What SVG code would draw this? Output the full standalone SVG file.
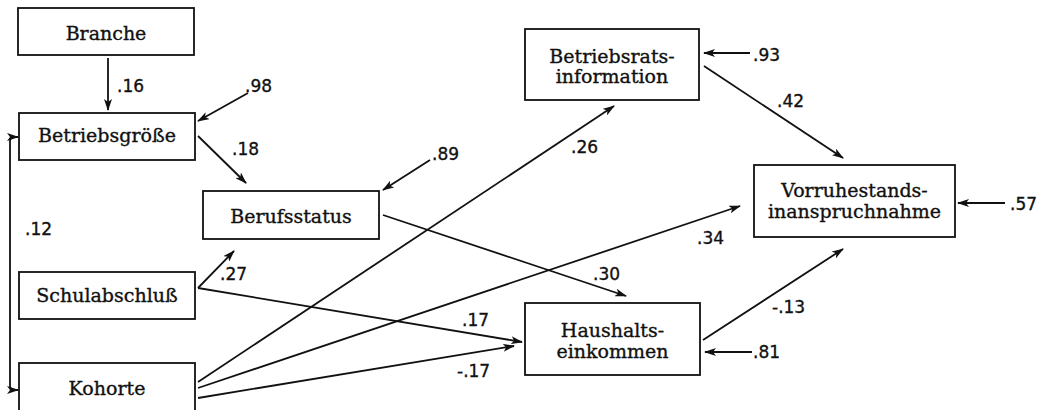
<svg xmlns="http://www.w3.org/2000/svg" width="1049" height="410" viewBox="0 0 1049 410">
<style>
.box{fill:#fff;stroke:#111;stroke-width:1.8}
.lbl{font-family:"DejaVu Serif","Liberation Serif",serif;font-size:19px;fill:#111;stroke:#111;stroke-width:0.35;text-anchor:middle}
.num{font-family:"DejaVu Sans","Liberation Sans",sans-serif;font-size:17px;fill:#111;stroke:#111;stroke-width:0.35}
.c{fill:none;stroke:#111;stroke-width:1.8;marker-end:url(#ah)}
</style>
<defs>
<marker id="ah" markerUnits="userSpaceOnUse" markerWidth="12" markerHeight="8" refX="11" refY="4" orient="auto-start-reverse" viewBox="0 0 12 8">
<path d="M0,0 L12,4 L0,8 L3,4 z" fill="#111"/>
</marker>
</defs>
<rect width="1049" height="410" fill="#fff"/>
<g id="connectors">
<line class="c" x1="108" y1="58" x2="108" y2="110"/>
<line class="c" x1="248" y1="93" x2="198" y2="121"/>
<line class="c" x1="198" y1="136" x2="246" y2="183"/>
<path class="c" style="marker-start:url(#ah)" d="M18,137 H14 Q10,137 10,141 V386 Q10,390 14,390 H18"/>
<line class="c" x1="430" y1="160" x2="383" y2="190"/>
<line class="c" x1="198" y1="288" x2="234" y2="251"/>
<line class="c" x1="198" y1="288" x2="522" y2="342"/>
<line class="c" x1="198" y1="382" x2="614" y2="106"/>
<line class="c" x1="198" y1="388" x2="740" y2="206"/>
<line class="c" x1="198" y1="398" x2="514" y2="346"/>
<line class="c" x1="383" y1="215" x2="626" y2="296"/>
<line class="c" x1="750" y1="53" x2="704" y2="53"/>
<line class="c" x1="704" y1="66" x2="843" y2="158"/>
<line class="c" x1="1005" y1="203" x2="958" y2="203"/>
<line class="c" x1="703" y1="340" x2="843" y2="249"/>
<line class="c" x1="752" y1="352" x2="705" y2="352"/>
</g>
<g id="branche"><rect class="box" x="18" y="8" width="176" height="47"/><text class="lbl" x="106" y="40">Branche</text></g>
<g id="betriebsgroesse"><rect class="box" x="19" y="113" width="176" height="47"/><text class="lbl" x="107" y="142">Betriebsgröße</text></g>
<g id="berufsstatus"><rect class="box" x="203" y="191" width="176" height="48"/><text class="lbl" x="291" y="223">Berufsstatus</text></g>
<g id="schulabschluss"><rect class="box" x="19" y="272" width="176" height="47"/><text class="lbl" x="107" y="302">Schulabschluß</text></g>
<g id="kohorte"><rect class="box" x="19" y="363" width="176" height="52"/><text class="lbl" x="107" y="395">Kohorte</text></g>
<g id="betriebsrat"><rect class="box" x="525" y="29" width="174" height="71"/><text class="lbl" x="612" y="63">Betriebsrats-</text><text class="lbl" x="612" y="83">information</text></g>
<g id="haushalt"><rect class="box" x="525" y="303" width="175" height="72"/><text class="lbl" x="612.5" y="337">Haushalts-</text><text class="lbl" x="612.5" y="358">einkommen</text></g>
<g id="vorruhestand"><rect class="box" x="754" y="165" width="201" height="72"/><text class="lbl" x="854.5" y="197">Vorruhestands-</text><text class="lbl" x="854.5" y="218">inanspruchnahme</text></g>
<g id="labels">
<text class="num" x="117" y="92">.16</text>
<text class="num" x="245" y="92">.98</text>
<text class="num" x="232" y="155">.18</text>
<text class="num" x="25" y="235">.12</text>
<text class="num" x="220" y="280">.27</text>
<text class="num" x="432" y="160">.89</text>
<text class="num" x="571" y="153">.26</text>
<text class="num" x="593" y="280">.30</text>
<text class="num" x="462" y="326">.17</text>
<text class="num" x="457" y="377">-.17</text>
<text class="num" x="697" y="244">.34</text>
<text class="num" x="772" y="313">-.13</text>
<text class="num" x="753" y="358">.81</text>
<text class="num" x="1010" y="210">.57</text>
<text class="num" x="753" y="61">.93</text>
<text class="num" x="777" y="107">.42</text>
</g>
</svg>
